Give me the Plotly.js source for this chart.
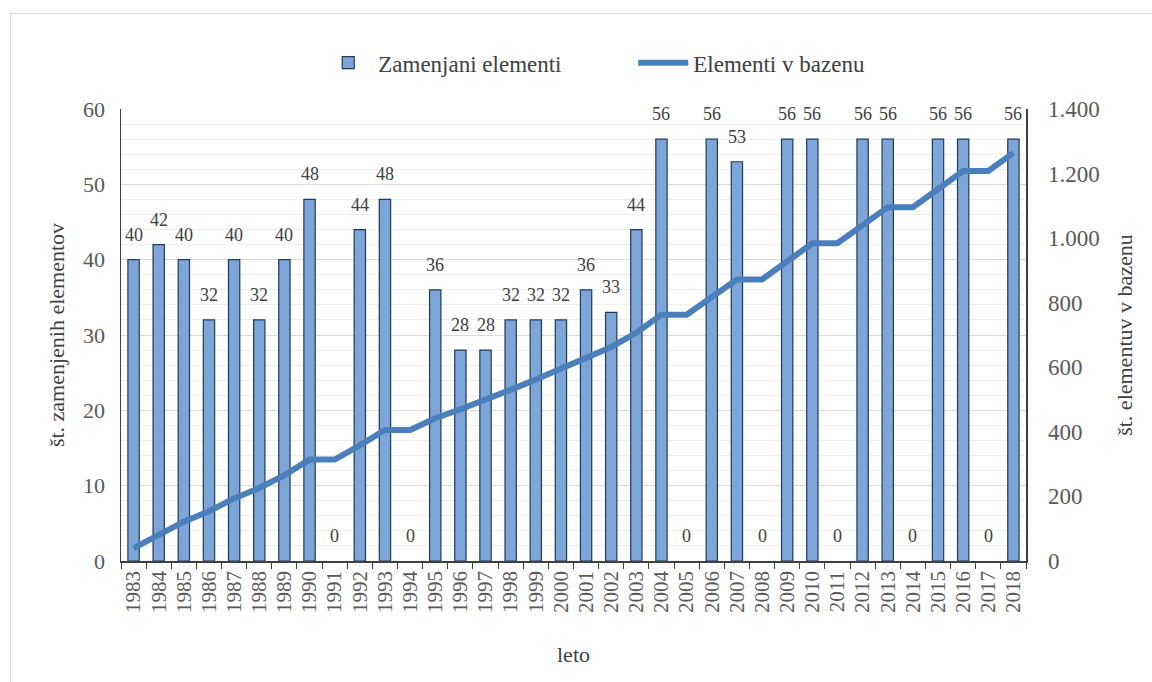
<!DOCTYPE html>
<html>
<head>
<meta charset="utf-8">
<script src="https://cdn.plot.ly/plotly-3.0.1.min.js"></script>
<style>
  html, body { margin:0; padding:0; background:#fff; overflow:hidden; }
  #wrap { position:relative; width:1152px; height:682px; }
  #frame { position:absolute; left:10px; top:13px; width:1200px; height:700px; border:1px solid #d9d9d9; box-sizing:border-box; pointer-events:none; }
  #chart { position:absolute; left:0; top:0; width:1152px; height:682px; }
</style>
</head>
<body>
<div id="wrap">
  <div id="chart"></div>
  <div id="frame"></div>
</div>
<script>
const years = ["1983","1984","1985","1986","1987","1988","1989","1990","1991","1992","1993","1994","1995","1996","1997","1998","1999","2000","2001","2002","2003","2004","2005","2006","2007","2008","2009","2010","2011","2012","2013","2014","2015","2016","2017","2018"];
const replaced = [40,42,40,32,40,32,40,48,0,44,48,0,36,28,28,32,32,32,36,33,44,56,0,56,53,0,56,56,0,56,56,0,56,56,0,56];
const inPool = [40,82,122,154,194,226,266,314,314,358,406,406,442,470,498,530,562,594,630,663,707,763,763,819,872,872,928,984,984,1040,1096,1096,1152,1208,1208,1264];
const barName = "Zamenjani elementi";
const lineName = "Elementi v bazenu";
const xTitle = "leto";
const yTitle = "št. zamenjenih elementov";
const y2Title = "št. elementuv v bazenu";

const serif = "'Liberation Serif', 'DejaVu Serif', serif";
const txt = "#595959";

const traces = [
  {
    type: "bar", name: barName, x: years, y: replaced,
    marker: { color: "#7EA5D8", line: { color: "#1F3A60", width: replaced.map(v => v > 0 ? 1.2 : 0) } },
    hoverinfo: "x+y"
  },
  {
    type: "scatter", mode: "lines", name: lineName, x: years, y: inPool, yaxis: "y2",
    line: { color: "#4B7FBC", width: 6 }
  }
];

const annotations = years.map((yr, i) => ({
  x: i, y: replaced[i], xref: "x", yref: "y",
  text: String(replaced[i]), showarrow: false,
  yanchor: "middle", yshift: 25,
  font: { family: serif, size: 18, color: "#404040" }
}));

const layout = {
  width: 1152, height: 682,
  margin: { l: 121, r: 126, t: 109, b: 121 },
  paper_bgcolor: "rgba(0,0,0,0)", plot_bgcolor: "#fff",
  separators: ",.",
  font: { family: serif, color: txt },
  bargap: 0.55,
  showlegend: true,
  legend: {
    orientation: "h", x: 0.566, xanchor: "center", y: 1.15, yanchor: "top",
    font: { family: serif, size: 23, color: "#404040" },
    traceorder: "normal", itemwidth: 50, entrywidth: 250, entrywidthmode: "pixels"
  },
  xaxis: {
    type: "category", tickangle: -90, tickson: "boundaries",
    ticks: "outside", ticklen: 6, tickcolor: "#404040",
    showline: true, linecolor: "#404040", linewidth: 1.5,
    showgrid: false,
    tickfont: { family: serif, size: 21, color: txt },
    title: { text: xTitle, font: { family: serif, size: 22, color: "#404040" }, standoff: 34 },
    range: [-0.5, 35.5]
  },
  yaxis: {
    range: [0, 60], dtick: 10,
    showline: true, linecolor: "#404040", linewidth: 1.5,
    gridcolor: "#d9d9d9", gridwidth: 1,
    minor: { dtick: 2, showgrid: true, gridcolor: "#efefef", gridwidth: 1 },
    zeroline: false,
    tickfont: { family: serif, size: 22, color: txt },
    ticks: "", ticklabelstandoff: 10,
    title: { text: yTitle, font: { family: serif, size: 22, color: "#404040" }, standoff: 12 }
  },
  yaxis2: {
    overlaying: "y", side: "right", range: [0, 1400], dtick: 200,
    tickformat: ",d",
    showline: true, linecolor: "#404040", linewidth: 1.5,
    showgrid: false, zeroline: false,
    tickfont: { family: serif, size: 23, color: txt },
    ticks: "", ticklabelstandoff: 16,
    title: { text: y2Title, font: { family: serif, size: 22, color: "#404040" }, standoff: 18 }
  },
  annotations: annotations
};

Plotly.newPlot("chart", traces, layout, { displayModeBar: false, staticPlot: true });
</script>
</body>
</html>
